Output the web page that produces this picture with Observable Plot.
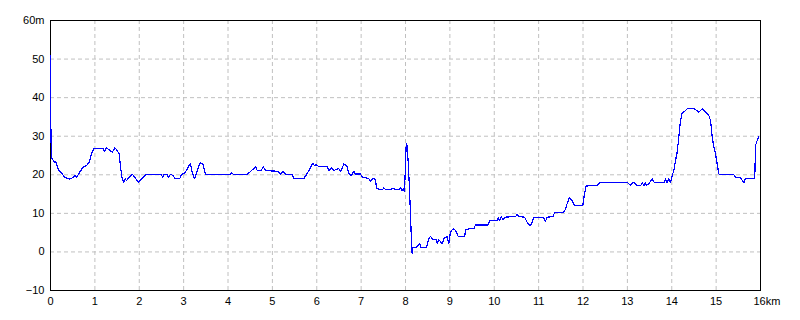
<!DOCTYPE html>
<html>
<head>
<meta charset="utf-8">
<script src="https://cdn.jsdelivr.net/npm/d3@7"></script>
<script src="https://cdn.jsdelivr.net/npm/@observablehq/plot@0.6"></script>
<style>
  html, body { margin: 0; padding: 0; background: #fff; }
  #chart svg { display: block; }
</style>
</head>
<body>
<div id="chart"></div>
<script>
const distanceKm = [
  0, 0.01, 0.02, 0.045, 0.079, 0.119, 0.174, 0.248, 0.322, 0.435,
  0.512, 0.557, 0.586, 0.660, 0.737, 0.811, 0.872, 0.924, 0.976, 1.188,
  1.210, 1.262, 1.336, 1.397, 1.449, 1.503, 1.548, 1.577, 1.616, 1.652,
  1.683, 1.713, 1.787, 1.848, 1.900, 1.976, 2.051, 2.148, 2.501, 2.524,
  2.553, 2.630, 2.659, 2.704, 2.765, 2.801, 2.914, 2.952, 3.026, 3.081,
  3.155, 3.189, 3.245, 3.290, 3.342, 3.380, 3.432, 3.493, 4.041, 4.072,
  4.131, 4.433, 4.491, 4.568, 4.620, 4.658, 4.748, 4.793, 4.845, 5.122,
  5.183, 5.244, 5.296, 5.447, 5.483, 5.708, 5.769, 5.821, 5.859, 5.911,
  5.949, 5.994, 6.046, 6.235, 6.272, 6.326, 6.384, 6.461, 6.497, 6.535,
  6.574, 6.610, 6.686, 6.722, 6.783, 6.835, 6.873, 6.986, 7.024, 7.173,
  7.211, 7.272, 7.324, 7.346, 7.475, 7.511, 7.565, 7.662, 7.700, 7.849,
  7.887, 7.926, 7.948, 7.977, 7.993, 8.016, 8.038, 8.052, 8.074, 8.113,
  8.135, 8.151, 8.165, 8.248, 8.277, 8.322, 8.354, 8.473, 8.525, 8.563,
  8.624, 8.699, 8.714, 8.750, 8.827, 8.879, 8.940, 8.976, 9.014, 9.075,
  9.127, 9.188, 9.330, 9.359, 9.426, 9.539, 9.577, 9.855, 9.900, 10.066,
  10.089, 10.118, 10.157, 10.201, 10.231, 10.479, 10.517, 10.553, 10.682, 10.742,
  10.779, 10.833, 10.891, 11.103, 11.155, 11.193, 11.329, 11.358, 11.554, 11.606,
  11.644, 11.689, 11.757, 11.808, 11.996, 12.034, 12.072, 12.320, 12.379, 13.010,
  13.070, 13.109, 13.167, 13.206, 13.296, 13.341, 13.370, 13.408, 13.431, 13.483,
  13.559, 13.611, 13.837, 13.859, 13.897, 13.933, 13.972, 14.010, 14.046, 14.085,
  14.123, 14.159, 14.197, 14.235, 14.287, 14.348, 14.513, 14.610, 14.686, 14.783,
  14.835, 14.873, 14.912, 14.948, 14.986, 15.024, 15.060, 15.083, 15.398, 15.437,
  15.527, 15.572, 15.624, 15.655, 15.849, 15.872, 15.887, 15.926, 15.962
];
const elevationM = [
  51, 30.5, 24.5, 24.1, 23.3, 23.3, 21.4, 20.5, 19.3, 18.9,
  19.3, 19.8, 19.3, 20.7, 22.0, 22.4, 23.3, 25.4, 26.9, 26.9,
  26.0, 27.0, 26.3, 25.9, 27.0, 26.3, 25.4, 22.0, 19.0, 18.1,
  19.0, 18.5, 19.5, 20.1, 19.3, 18.1, 18.9, 20.1, 20.1, 19.3,
  20.1, 20.1, 19.3, 20.1, 19.8, 19.0, 19.0, 20.1, 20.5, 21.5,
  23.0, 20.7, 19.0, 20.3, 22.4, 23.1, 22.9, 20.1, 20.1, 20.5,
  20.1, 20.1, 20.7, 21.5, 22.1, 21.1, 21.1, 22.1, 21.1, 20.9,
  20.1, 20.9, 20.1, 20.1, 19.0, 19.0, 20.1, 21.1, 21.8, 23.0,
  22.4, 22.6, 22.1, 22.1, 21.1, 21.8, 21.1, 21.5, 21.6, 20.9,
  21.8, 22.8, 22.2, 20.3, 19.8, 20.9, 20.2, 20.2, 19.4, 19.0,
  18.4, 19.0, 18.8, 16.4, 16.1, 16.6, 16.1, 16.1, 16.4, 16.1,
  16.6, 15.9, 16.4, 15.7, 20.3, 28.0, 27.6, 25.0, 20.3, 9.9,
  2.1, -0.5, 1.2, 1.1, 1.7, 2.1, 1.1, 1.1, 3.4, 4.0,
  3.2, 3.2, 2.1, 3.2, 2.1, 3.8, 3.9, 2.1, 5.2, 6.0,
  5.6, 4.0, 4.0, 5.7, 6.0, 6.0, 7.0, 7.0, 8.1, 8.1,
  8.8, 8.1, 9.2, 8.3, 9.0, 9.2, 9.7, 9.2, 9.0, 7.7,
  7.0, 7.0, 9.0, 9.0, 8.0, 9.0, 9.2, 10.2, 10.2, 11.0,
  12.6, 14.0, 13.2, 12.0, 12.0, 15.2, 17.1, 17.2, 17.9, 17.9,
  17.2, 17.9, 17.9, 17.2, 17.2, 17.9, 17.1, 17.9, 17.2, 17.7,
  19.0, 17.9, 17.9, 19.0, 17.9, 19.0, 17.9, 19.8, 21.1, 23.7,
  25.9, 29.8, 34.1, 36.0, 36.4, 37.1, 37.1, 36.2, 37.1, 36.0,
  35.4, 34.1, 29.8, 27.2, 25.4, 22.8, 20.3, 20.0, 20.0, 19.4,
  19.4, 18.8, 17.9, 19.0, 19.0, 19.4, 27.6, 28.9, 29.8
];
const xTicks = [0, 1, 2, 3, 4, 5, 6, 7, 8, 9, 10, 11, 12, 13, 14, 15, 16];
const yTicks = [-10, 0, 10, 20, 30, 40, 50, 60];

const n = Math.min(distanceKm.length, elevationM.length);
const profile = d3.range(n).map(i => ({km: distanceKm[i], m: elevationM[i]}));

const font = "'Liberation Sans', Arial, sans-serif";
const lastX = xTicks[xTicks.length - 1];
const lastY = yTicks[yTicks.length - 1];

const chart = Plot.plot({
  width: 800,
  height: 320,
  marginLeft: 50,
  marginTop: 20,
  marginRight: 40,
  marginBottom: 30,
  style: {fontFamily: font, fontSize: "11px", color: "#000", background: "#fff"},
  x: {domain: [0, 16]},
  y: {domain: [-10, 60]},
  marks: [
    Plot.gridX(xTicks, {stroke: "#c0c0c0", strokeOpacity: 1, strokeDasharray: "4,3"}),
    Plot.gridY(yTicks, {stroke: "#c0c0c0", strokeOpacity: 1, strokeDasharray: "4,3"}),
    Plot.frame({stroke: "#000", strokeWidth: 1}),
    Plot.line(profile, {x: "km", y: "m", stroke: "#0000ff", strokeWidth: 1.2, shapeRendering: "crispEdges"}),
    Plot.axisY(yTicks, {
      tickSize: 0, tickPadding: 6, label: null, fill: "#000",
      tickFormat: d => d === lastY ? d3.format("d")(d) + "m" : d3.format("d")(d)
    }),
    Plot.axisX(xTicks.slice(0, -1), {
      tickSize: 0, tickPadding: 7, label: null, fill: "#000",
      tickFormat: d3.format("d")
    }),
    Plot.axisX([lastX], {
      tickSize: 0, tickPadding: 7, label: null, fill: "#000",
      textAnchor: "start", dx: -7,
      tickFormat: d => d3.format("d")(d) + "km"
    })
  ]
});
document.getElementById("chart").appendChild(chart);
</script>
</body>
</html>
